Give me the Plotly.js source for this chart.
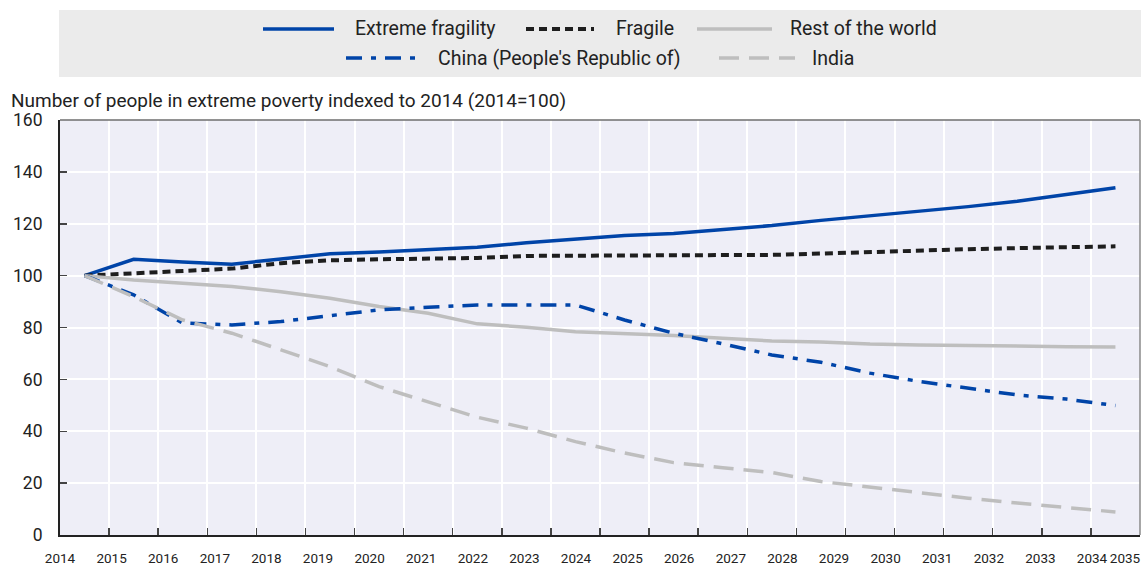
<!DOCTYPE html>
<html>
<head>
<meta charset="utf-8">
<script src="https://cdn.plot.ly/plotly-3.0.1.min.js"></script>
<style>html,body{margin:0;padding:0;background:#fff;}</style>
</head>
<body>
<div id="chart" style="width:1141px;height:568px;"></div>
<script>
// ---- Data ----
const years = ['2014','2015','2016','2017','2018','2019','2020','2021','2022','2023','2024','2025','2026','2027','2028','2029','2030','2031','2032','2033','2034','2035'];
const extremeFragility = [100,106.3,105.3,104.4,106.4,108.4,109.1,109.9,110.9,112.7,114.1,115.5,116.2,117.6,119.3,121.3,123.0,124.7,126.6,128.7,131.4,133.9];
const fragile = [100,101.0,101.8,102.7,104.8,105.9,106.3,106.7,106.8,107.6,107.7,107.7,107.7,107.7,108.0,108.5,109.1,109.8,110.2,110.6,111.1,111.3];
const restOfWorld = [100,98.3,97.1,95.8,93.8,91.3,88.1,85.5,81.4,80.1,78.4,77.8,76.9,75.9,74.8,74.4,73.6,73.3,73.0,73.0,72.6,72.5];
const china = [100,92.6,81.7,81.0,82.3,84.6,86.8,87.8,88.7,88.7,88.7,82.9,77.8,73.7,69.4,66.6,62.4,59.2,56.6,54.0,52.4,49.9];
const india = [100,91.9,82.9,77.8,71.4,64.9,57.2,51.4,45.4,41.2,36.0,31.6,27.9,25.9,24.1,20.6,18.5,16.1,14.2,12.3,10.6,8.9];
const seriesNames = ['Extreme fragility','Fragile','Rest of the world',"China (People's Republic of)",'India'];
const yTickVals = [0,20,40,60,80,100,120,140,160];
const labelYears = [2014,2015,2016,2017,2018,2019,2020,2021,2022,2023,2024,2025,2026,2027,2028,2029,2030,2031,2032,2033,2034,2035];
const yTitle = 'Number of people in extreme poverty indexed to 2014 (2014=100)';

// ---- Styles ----
const FONT = 'Roboto, Liberation Sans, sans-serif';
const BLUE = '#0044A8', BLACK = '#1E1E1E', GREY = '#BEBEBE';
const styles = [
  {color: BLUE, width: 3.5, dash: 'solid'},
  {color: BLACK, width: 4, dash: '8px,5px'},
  {color: GREY, width: 3.5, dash: 'solid'},
  {color: BLUE, width: 3.5, dash: '16px,9px,5px,9px'},
  {color: GREY, width: 3.5, dash: '20px,10px'}
];
const values = [extremeFragility, fragile, restOfWorld, china, india];

const traces = values.map((v, i) => ({
  type: 'scatter', mode: 'lines', x: years, y: v, name: seriesNames[i],
  line: {color: styles[i].color, width: styles[i].width, dash: styles[i].dash},
  showlegend: false, hoverinfo: 'skip'
}));
// invisible carrier trace so the label axis (x2) is drawn
traces.push({type: 'scatter', mode: 'markers', x: labelYears, y: labelYears.map(() => null),
  xaxis: 'x2', yaxis: 'y', showlegend: false, hoverinfo: 'skip', marker: {opacity: 0}});

// plot area in pixels
const L = 60, R = 1140, T = 120, B = 535, W = 1141, H = 568;
const px = x => (x - L) / (R - L);
const py = y => (B - y) / (B - T);

const shapes = [
  {type: 'rect', xref: 'paper', yref: 'paper', x0: px(59), x1: px(1141), y0: py(77), y1: py(10),
   fillcolor: '#EBEBEB', line: {width: 0}, layer: 'below'},
  {type: 'line', xref: 'paper', yref: 'paper', x0: 0, x1: 1, y0: 1, y1: 1, line: {color: '#6E6E6E', width: 1.5}, layer: 'above'},
  {type: 'line', xref: 'paper', yref: 'paper', x0: 1, x1: 1, y0: 0, y1: 1, line: {color: '#8A8A8A', width: 1.5}, layer: 'above'}
];
const annotations = [
  {xref: 'paper', yref: 'paper', x: px(9), y: py(100), xanchor: 'left', yanchor: 'middle',
   text: yTitle, showarrow: false, font: {family: FONT, size: 19, color: '#222'}}
];
// legend entries: [lineStartPx, lineEndPx, textStartPx, rowY]
const legendPos = [
  [263, 334, 353, 29],
  [526, 594, 614, 29],
  [697, 772, 788, 29],
  [346, 419, 436, 58],
  [719, 795, 810, 58]
];
legendPos.forEach((p, i) => {
  shapes.push({type: 'line', xref: 'paper', yref: 'paper', x0: px(p[0]), x1: px(p[1]), y0: py(p[3]), y1: py(p[3]),
    line: {color: styles[i].color, width: styles[i].width, dash: styles[i].dash}, layer: 'above'});
  annotations.push({xref: 'paper', yref: 'paper', x: px(p[2]), y: py(p[3]), xanchor: 'left', yanchor: 'middle',
    text: seriesNames[i], showarrow: false, font: {family: FONT, size: 19.5, color: '#222'}});
});

const labelPos = labelYears.map(y => y === 2035 ? 2034.64 : y);

const layout = {
  width: W, height: H,
  margin: {l: L, r: W - R, t: T, b: H - B, pad: 0},
  paper_bgcolor: '#FFFFFF', plot_bgcolor: '#EEEEF7',
  font: {family: FONT, size: 17, color: '#222'},
  xaxis: {
    type: 'category', categoryorder: 'array', categoryarray: years, range: [-0.5, 21.5],
    tickson: 'boundaries', showgrid: true, gridcolor: '#FFFFFF', gridwidth: 2,
    ticks: 'inside', ticklen: 7, tickwidth: 1.5, tickcolor: '#444',
    showticklabels: false, showline: true, linecolor: '#222', linewidth: 2, zeroline: false, fixedrange: true
  },
  xaxis2: {
    overlaying: 'x', anchor: 'y', side: 'bottom', range: [2014, 2014 + (R - L) / 51.6],
    tickmode: 'array', tickvals: labelPos, ticktext: labelYears.map(String), ticklabeloverflow: 'allow',
    tickangle: 0, automargin: false,
    showgrid: false, showline: false, zeroline: false, ticks: 'outside', ticklen: 11, tickcolor: 'rgba(0,0,0,0)',
    tickfont: {family: FONT, size: 13.5, color: '#222'}, fixedrange: true
  },
  yaxis: {
    range: [0, 160], tickmode: 'array', tickvals: yTickVals, showgrid: true, gridcolor: '#FFFFFF', gridwidth: 2,
    ticks: 'inside', ticklen: 7, tickwidth: 1.5, tickcolor: '#444', ticklabelstandoff: 12,
    showline: true, linecolor: '#222', linewidth: 2, zeroline: false,
    tickfont: {family: FONT, size: 17.5, color: '#222'}, fixedrange: true
  },
  shapes: shapes,
  annotations: annotations,
  showlegend: false
};

Plotly.newPlot('chart', traces, layout, {displayModeBar: false, staticPlot: true});
</script>
</body>
</html>
